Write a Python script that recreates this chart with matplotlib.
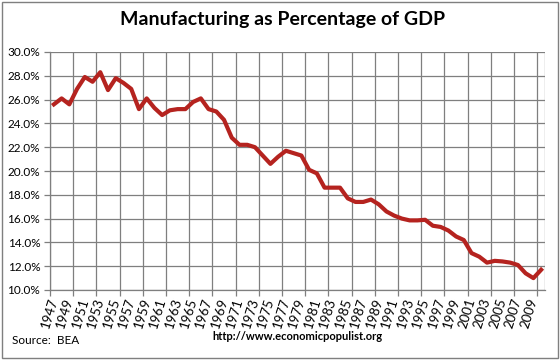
import matplotlib
matplotlib.use("Agg")
import matplotlib.pyplot as plt
from matplotlib.patches import Rectangle

years = list(range(1947, 2011))
values = [25.6, 26.1, 25.6, 26.9, 27.9, 27.5, 28.3, 26.8, 27.8, 27.4,
          26.9, 25.2, 26.1, 25.3, 24.7, 25.1, 25.2, 25.2, 25.8, 26.1,
          25.2, 25.0, 24.3, 22.8, 22.2, 22.2, 22.0, 21.3, 20.6, 21.2,
          21.7, 21.5, 21.3, 20.1, 19.8, 18.6, 18.6, 18.6, 17.7, 17.4,
          17.4, 17.6, 17.2, 16.6, 16.25, 16.0, 15.85, 15.85, 15.9, 15.4,
          15.3, 15.0, 14.5, 14.2, 13.1, 12.8, 12.3, 12.45, 12.4, 12.3,
          12.1, 11.4, 11.0, 11.7]
y_ticks = [10, 12, 14, 16, 18, 20, 22, 24, 26, 28, 30]
title = "Manufacturing as Percentage of GDP"
source = "Source:  BEA"
url = "http://www.economicpopulist.org"

plt.rcParams['font.family'] = ['Lato', 'DejaVu Sans']
grid_c = '#7f7f7f'

fig = plt.figure(figsize=(5.6, 3.6), dpi=100)
ax = fig.add_axes([50/560, 1-290/360, 495/560, (290-52)/360])

idx = list(range(len(years)))
ax.plot(idx, values, color='#B5231F', lw=3.0, solid_joinstyle='round', zorder=3)

ax.set_xlim(-0.5, len(years) - 0.5)
ax.set_ylim(10, 30)
ax.set_yticks(y_ticks)
ax.set_yticklabels([f"{v:.1f}%" for v in y_ticks], fontsize=8.5)

major = [i - 0.5 for i in range(0, len(years), 3)]
ax.set_xticks(major)
ax.set_xticklabels([])
ax.set_xticks(idx[::2], minor=True)
ax.set_xticklabels([str(y) for y in years[::2]], minor=True, rotation=73,
                   ha='right', va='center', rotation_mode='anchor', fontsize=9.5)
ax.tick_params(axis='x', which='minor', length=0, pad=6)
ax.tick_params(axis='x', which='major', length=4, color=grid_c, width=0.9)
ax.tick_params(axis='y', length=4, color=grid_c, width=0.9, pad=3)

ax.grid(True, which='major', color=grid_c, lw=0.9)
ax.set_axisbelow(True)
for s in ['top', 'right']:
    ax.spines[s].set_visible(False)
for s in ['left', 'bottom']:
    ax.spines[s].set_color(grid_c)
    ax.spines[s].set_linewidth(0.9)
ax.axvline(len(years) - 0.5, color=grid_c, lw=0.9)

fig.text(283/560, 1-19/360, title, ha='center', va='center', fontsize=14, fontweight='bold')
fig.text(297/560, 1-337/360, url, ha='center', va='center', fontsize=8, fontweight='bold')
fig.text(12/560, 1-341/360, source, ha='left', va='center', fontsize=8.5)

fig.patches.append(Rectangle((0.003, 0.006), 0.993, 0.988, transform=fig.transFigure,
                             fill=False, edgecolor=grid_c, lw=1))

fig.savefig("out.png", dpi=100)
